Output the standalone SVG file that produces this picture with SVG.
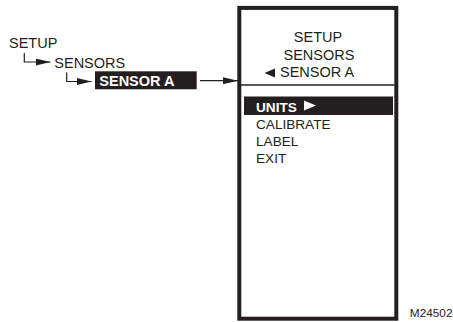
<svg xmlns="http://www.w3.org/2000/svg" width="453" height="322" viewBox="0 0 453 322">
<style>
text{font-family:"Liberation Sans",Arial,sans-serif;fill:#231f20}
.t{font-size:14.5px}
.m{font-size:13.6px}
.b{font-weight:bold;fill:#fff}
.ln{fill:none;stroke:#231f20;stroke-width:1.2}
.tri{fill:#231f20}
</style>
<defs>
<marker id="ah" markerUnits="userSpaceOnUse" markerWidth="15" markerHeight="7" refX="15" refY="3.5" orient="auto">
<path d="M0,0 L15,3.5 L0,7 Z" fill="#231f20"/>
</marker>
</defs>
<rect width="453" height="322" fill="#fff"/>
<g id="setup-left"><text class="t" x="9" y="48.3">SETUP</text></g>
<g id="sensors-left"><text class="t" x="54.3" y="67.7">SENSORS</text></g>
<g id="sensor-a-left">
<rect x="95" y="71.3" width="101.7" height="18" fill="#231f20"/>
<text class="t b" x="99.3" y="86">SENSOR A</text>
</g>
<g id="display">
<rect x="239.3" y="7.9" width="157" height="310.8" fill="none" stroke="#231f20" stroke-width="4"/>
<text class="t" x="318" y="42" text-anchor="middle">SETUP</text>
<text class="t" x="319" y="59.5" text-anchor="middle">SENSORS</text>
<path class="tri" d="M264.5,73 L275,68.5 L275,77.5 Z"/>
<text class="t" x="280" y="77.3">SENSOR A</text>
<line x1="241" y1="85" x2="394.5" y2="85" stroke="#231f20" stroke-width="1.3"/>
<rect x="244" y="96.5" width="149" height="18.5" fill="#231f20"/>
<text class="m b" x="256" y="111.5">UNITS</text>
<path d="M304,100.5 L316,105.5 L304,110.5 Z" fill="#fff"/>
<text class="m" x="256" y="129">CALIBRATE</text>
<text class="m" x="256" y="146">LABEL</text>
<text class="m" x="256" y="163">EXIT</text>
</g>
<g id="connectors">
<polyline class="ln" points="24.3,53 24.3,62 50.5,62" marker-end="url(#ah)"/>
<polyline class="ln" points="66.7,72.5 66.7,81.5 91.5,81.5" marker-end="url(#ah)"/>
<line class="ln" x1="200" y1="80.7" x2="238" y2="80.7" marker-end="url(#ah)"/>
</g>
<text x="452.5" y="317.3" font-size="11.8" text-anchor="end">M24502</text>
</svg>
